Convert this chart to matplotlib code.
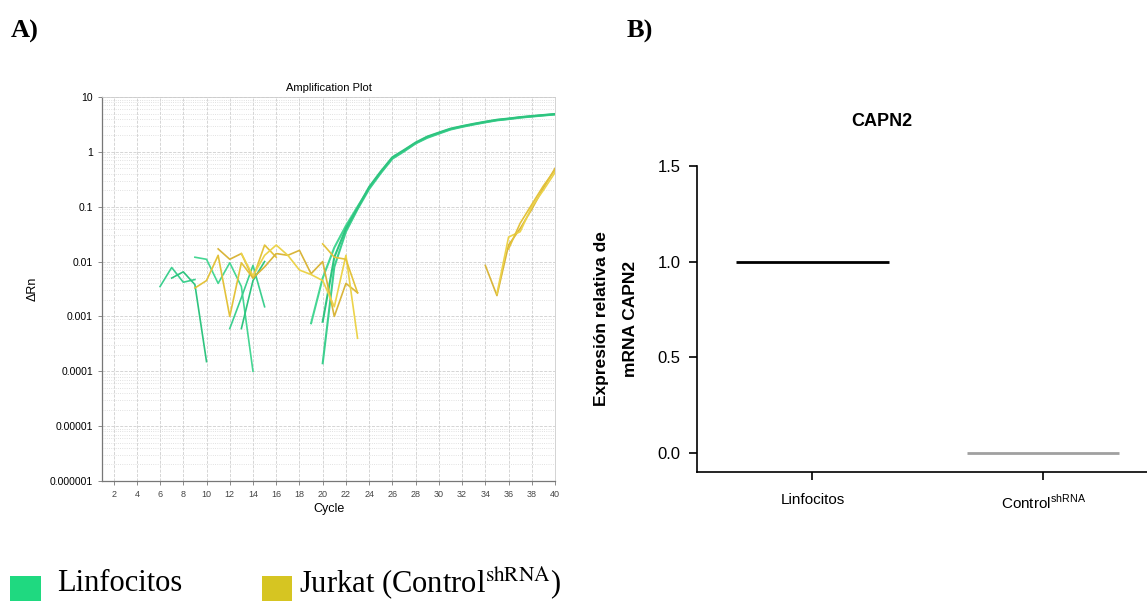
"""
Amplification plot (A) and relative CAPN2 expression (B).
"""

import matplotlib.pyplot as plt
from matplotlib.patches import Rectangle

# ---- Panel A data: qPCR amplification traces (cycle, delta Rn) ----
lin_cycles = [
    [6, 7, 8, 9],
    [7, 8, 9, 10],
    [9, 10, 11, 12, 13, 14],
    [12, 13, 14, 15],
    [13, 14, 15],
    list(range(19, 41)),
    list(range(20, 41)),
    list(range(20, 41)),
]
lin_values = [
    [0.0035, 0.0078, 0.0042, 0.0047],
    [0.005, 0.0065, 0.0038, 0.00015],
    [0.012, 0.011, 0.004, 0.0095, 0.0035, 0.0001],
    [0.0006, 0.0022, 0.0085, 0.0015],
    [0.0006, 0.0045, 0.01],
    [0.00075, 0.005, 0.018, 0.045, 0.1, 0.22, 0.42, 0.77, 1.05, 1.45, 1.85,
     2.2, 2.6, 2.9, 3.2, 3.5, 3.8, 4.0, 4.25, 4.45, 4.65, 4.85],
    [0.00014, 0.008, 0.035, 0.09, 0.21, 0.41, 0.75, 1.02, 1.42, 1.8,
     2.15, 2.55, 2.85, 3.15, 3.45, 3.75, 3.95, 4.2, 4.4, 4.6, 4.8],
    [0.0008, 0.012, 0.04, 0.095, 0.23, 0.44, 0.8, 1.08, 1.48, 1.9,
     2.25, 2.65, 2.95, 3.25, 3.55, 3.85, 4.05, 4.3, 4.5, 4.7, 4.9],
]

jur_cycles = [
    [9, 10, 11, 12, 13, 14, 15, 16],
    [11, 12, 13, 14, 15, 16, 17, 18, 19, 20, 21, 22, 23],
    [13, 14, 15, 16, 17, 18, 19, 20, 21, 22, 23],
    [20, 21, 22, 23],
    [34, 35, 36, 37, 38, 39, 40],
    [35, 36, 37, 38, 39, 40],
    [36, 37, 38, 39, 40],
]
jur_values = [
    [0.0033, 0.0045, 0.013, 0.001, 0.0095, 0.005, 0.02, 0.012],
    [0.017, 0.011, 0.014, 0.005, 0.008, 0.014, 0.013, 0.016, 0.006, 0.01,
     0.001, 0.004, 0.0027],
    [0.014, 0.0055, 0.013, 0.02, 0.013, 0.007, 0.0058, 0.0045, 0.0015,
     0.013, 0.0004],
    [0.021, 0.012, 0.011, 0.0027],
    [0.0085, 0.0024, 0.02, 0.04, 0.09, 0.22, 0.5],
    [0.0026, 0.028, 0.035, 0.1, 0.2, 0.42],
    [0.017, 0.05, 0.11, 0.24, 0.47],
]

lin_colors = ["#3ccf8e", "#2ec47f", "#45d693"]
jur_colors = ["#e3c23a", "#d9b53a", "#ecd34a"]

x_ticks = list(range(2, 41, 2))
y_ticks = [1e-6, 1e-5, 1e-4, 1e-3, 1e-2, 0.1, 1, 10]
y_tick_labels = ["0.000001", "0.00001", "0.0001", "0.001", "0.01", "0.1", "1", "10"]

# ---- Panel B data ----
groups = ["Linfocitos", "Control$^{\\mathrm{shRNA}}$"]
expression = [1.0, 0.0]
bar_colors = ["#000000", "#a0a0a0"]

plt.rcParams["font.family"] = ["Liberation Sans", "DejaVu Sans"]
plt.rcParams["mathtext.fontset"] = "custom"
plt.rcParams["mathtext.rm"] = "Liberation Sans"

fig = plt.figure(figsize=(11.47, 6.01), dpi=100)

# ---------------- Panel A ----------------
ax1 = fig.add_axes([0.0889, 0.1997, 0.395, 0.6389])
for i, (c, v) in enumerate(zip(lin_cycles, lin_values)):
    ax1.plot(c, v, color=lin_colors[i % 3], lw=1.5 if i >= 5 else 1.2)
for i, (c, v) in enumerate(zip(jur_cycles, jur_values)):
    ax1.plot(c, v, color=jur_colors[i % 3], lw=1.2)

ax1.set_yscale("log")
ax1.set_xlim(1, 40)
ax1.set_ylim(1e-6, 10)
ax1.set_xticks(x_ticks)
ax1.set_xticklabels([str(t) for t in x_ticks], fontsize=6.5, color="#444444")
ax1.set_yticks(y_ticks)
ax1.set_yticklabels(y_tick_labels, fontsize=7.5)
ax1.grid(True, which="major", ls="--", color="#cfcfcf", lw=0.6)
ax1.grid(True, which="minor", axis="y", ls=":", color="#d8d8d8", lw=0.6)
ax1.set_axisbelow(True)
ax1.tick_params(axis="both", which="major", length=3, width=0.6, color="#777777")
ax1.tick_params(axis="y", which="minor", length=0)
for side in ["left", "bottom"]:
    ax1.spines[side].set_color("#777777")
    ax1.spines[side].set_linewidth(0.9)
for side in ["top", "right"]:
    ax1.spines[side].set_color("#cccccc")
    ax1.spines[side].set_linewidth(0.6)
ax1.set_title("Amplification Plot", fontsize=8, pad=4)
ax1.set_xlabel("Cycle", fontsize=9, labelpad=3)
ax1.set_ylabel("\u0394Rn", fontsize=9, labelpad=8)

# ---------------- Panel B ----------------
ax2 = fig.add_axes([0.6077, 0.2146, 0.3923, 0.5092])
for i, (g, val) in enumerate(zip(groups, expression)):
    ax2.hlines(val, i - 0.33, i + 0.33, color=bar_colors[i], lw=2)
ax2.set_xlim(-0.5, 1.45)
ax2.set_ylim(-0.1, 1.5)
ax2.set_yticks([0.0, 0.5, 1.0, 1.5])
ax2.set_yticklabels(["0.0", "0.5", "1.0", "1.5"], fontsize=12)
ax2.set_xticks([0, 1])
ax2.set_xticklabels(groups, fontsize=11)
ax2.spines["top"].set_visible(False)
ax2.spines["right"].set_visible(False)
ax2.spines["left"].set_bounds(-0.1, 1.5)
ax2.spines["left"].set_linewidth(1.2)
ax2.spines["bottom"].set_linewidth(1.2)
ax2.tick_params(axis="both", length=6, width=1.2)
ax2.tick_params(axis="x", pad=9)
ax2.tick_params(axis="y", pad=6)
fig.text(882 / 1147, 1 - 122 / 601, "CAPN2", fontsize=13, fontweight="bold",
         ha="center", va="center")
ax2.set_ylabel("Expresión relativa de\nmRNA CAPN2", fontsize=12.5,
               fontweight="bold", labelpad=14, linespacing=2.2)

# ---------------- Panel letters and legend ----------------
fig.text(0.009, 0.948, "A)", fontsize=19, fontweight="bold",
         family="Liberation Serif", va="center")
fig.text(0.546, 0.948, "B)", fontsize=19, fontweight="bold",
         family="Liberation Serif", va="center")

fig.add_artist(Rectangle((0.009, 0.0), 0.027, 0.041, transform=fig.transFigure,
                         color="#1fd980", lw=0))
fig.text(0.05, 0.029, "Linfocitos", fontsize=22, family="Liberation Serif",
         va="center")
fig.add_artist(Rectangle((0.228, 0.0), 0.027, 0.041, transform=fig.transFigure,
                         color="#d6c522", lw=0))
fig.text(0.261, 0.029, "Jurkat (Control$^{\\mathrm{shRNA}}$)", fontsize=22,
         family="Liberation Serif", math_fontfamily="stix", va="center")

fig.savefig("out.png", dpi=100)
